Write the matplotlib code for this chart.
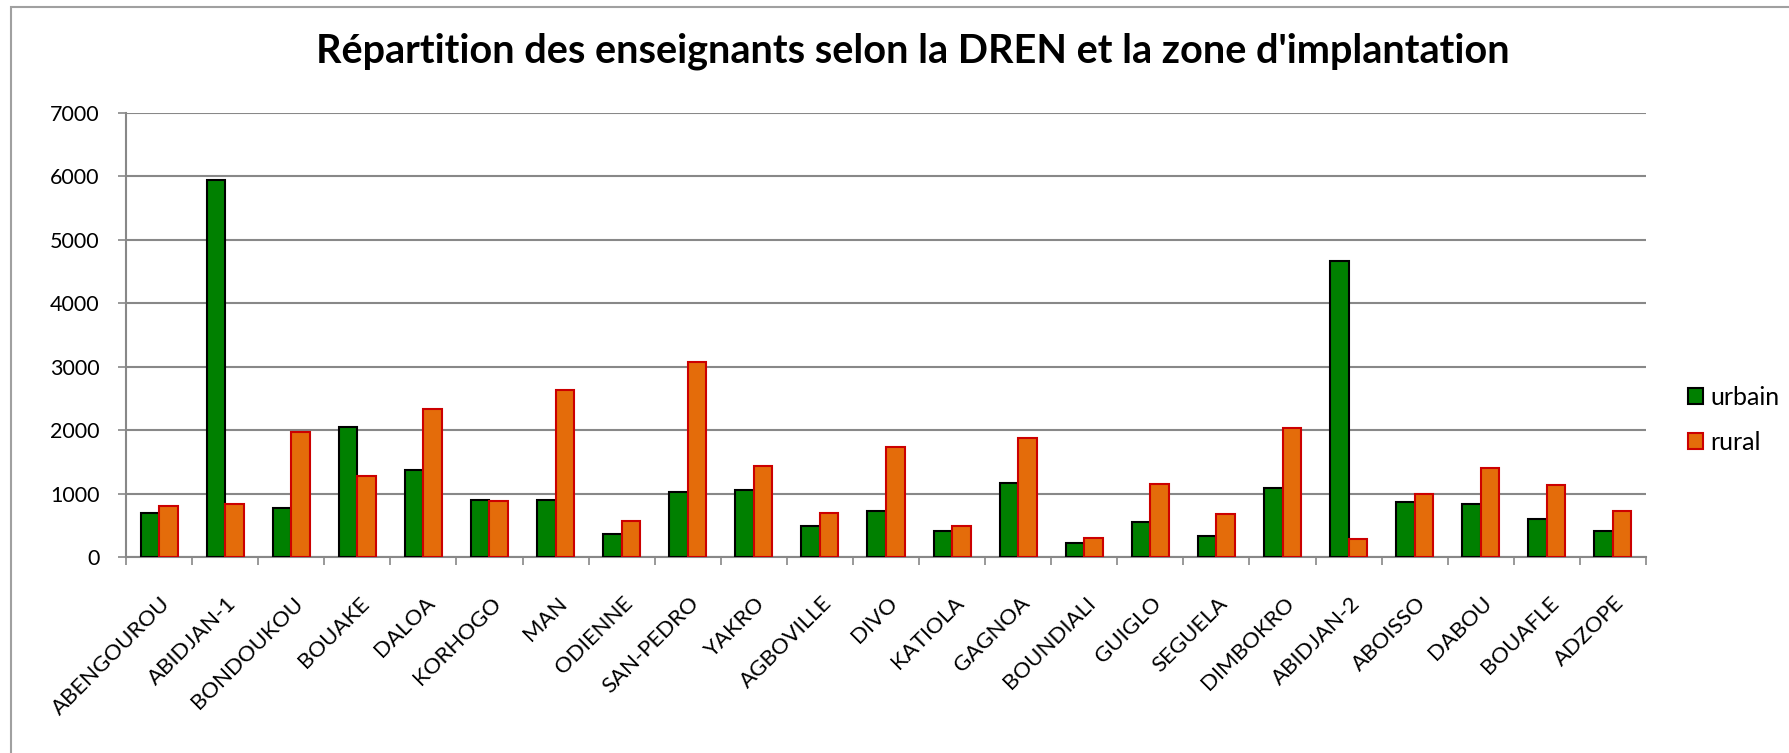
import numpy as np
import matplotlib.pyplot as plt
from matplotlib.patches import Rectangle, Patch

# DREN (directions régionales) et effectifs
dren = ["ABENGOUROU", "ABIDJAN-1", "BONDOUKOU", "BOUAKE", "DALOA", "KORHOGO",
        "MAN", "ODIENNE", "SAN-PEDRO", "YAKRO", "AGBOVILLE", "DIVO", "KATIOLA",
        "GAGNOA", "BOUNDIALI", "GUIGLO", "SEGUELA", "DIMBOKRO", "ABIDJAN-2",
        "ABOISSO", "DABOU", "BOUAFLE", "ADZOPE"]
urbain = [695, 5947, 774, 2042, 1379, 905, 905, 358, 1026, 1063, 495, 726, 410,
          1168, 226, 558, 332, 1089, 4674, 874, 832, 605, 405]
rural = [810, 842, 1968, 1274, 2332, 879, 2626, 563, 3074, 1442, 700, 1737, 484,
         1874, 305, 1147, 674, 2032, 279, 989, 1400, 1132, 726]
yticks = [0, 1000, 2000, 3000, 4000, 5000, 6000, 7000]

plt.rcParams['font.family'] = ['Lato', 'DejaVu Sans']

W, H = 1789, 753
fig = plt.figure(figsize=(W / 100, H / 100), dpi=100)
# plot area in pixels: x 126..1646, y 113..557
ax = fig.add_axes([126 / W, 1 - 557 / H, (1646 - 126) / W, (557 - 113) / H])

x = np.arange(len(dren))
w = 0.28
ax.bar(x - w / 2, urbain, w, color='#008000', edgecolor='black', linewidth=1.5, label='urbain', zorder=3)
ax.bar(x + w / 2, rural, w, color='#E46C0A', edgecolor='#CC0000', linewidth=1.5, label='rural', zorder=3)

ax.set_xlim(-0.5, len(dren) - 0.5)
ax.set_ylim(0, 7000)
ax.set_yticks(yticks)
ax.set_yticklabels([str(v) for v in yticks], fontsize=15.5)
ax.yaxis.grid(True, color='#888888', linewidth=1.5, zorder=0)
ax.tick_params(axis='y', length=6, width=1.2, color='#888888', pad=13)

# category boundaries carry the tick marks, labels are drawn at the centres
ax.set_xticks(np.arange(len(dren) + 1) - 0.5)
ax.set_xticklabels([])
ax.tick_params(axis='x', length=6, width=1.2, color='#888888')
for i, name in enumerate(dren):
    ax.annotate(name, xy=(i, 0), xycoords=('data', 'axes fraction'),
                xytext=(6, -31), textcoords='offset points', fontsize=16,
                rotation=45, ha='right', va='center', rotation_mode='anchor')

for s in ['top', 'right']:
    ax.spines[s].set_visible(False)
for s in ['left', 'bottom']:
    ax.spines[s].set_color('#888888')
    ax.spines[s].set_linewidth(1.5)

fig.text(913 / W, 1 - 63 / H,
         "Répartition des enseignants selon la DREN et la zone d'implantation",
         fontsize=28.5, fontweight='bold', ha='center', va='baseline')

handles = [Patch(facecolor='#008000', edgecolor='black', linewidth=1.5),
           Patch(facecolor='#E46C0A', edgecolor='#CC0000', linewidth=1.5)]
fig.legend(handles, ['urbain', 'rural'], loc='center left',
           bbox_to_anchor=(1688 / W, 1 - 420 / H), frameon=False,
           fontsize=18, handlelength=0.6, handleheight=0.6, handletextpad=0.3,
           labelspacing=0.9, borderpad=0, borderaxespad=0)

# chart frame
fig.patches.append(Rectangle((11 / W, -0.05), 1.1, 1.05 - 7 / H,
                             transform=fig.transFigure, fill=False,
                             edgecolor='#a0a0a0', linewidth=1.5))

fig.savefig('out.png', dpi=100)
